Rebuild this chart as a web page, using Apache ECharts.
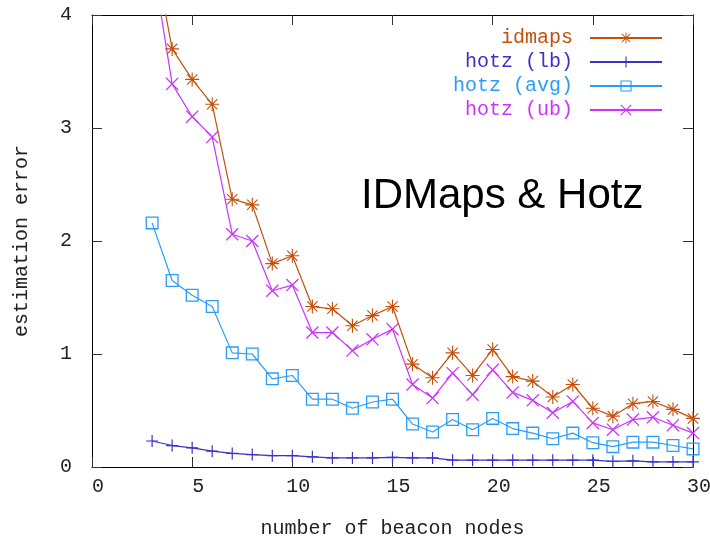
<!DOCTYPE html>
<html>
<head>
<meta charset="utf-8">
<script src="https://cdn.jsdelivr.net/npm/echarts@6/dist/echarts.min.js"></script>
<style>
  html, body { margin: 0; padding: 0; background: #fff; }
  #chart { width: 710px; height: 540px; }
</style>
</head>
<body>
<div id="chart"></div>
<script>
var myChart = echarts.init(document.getElementById('chart'));

// beacon node counts
var nodes = [3, 4, 5, 6, 7, 8, 9, 10, 11, 12, 13, 14, 15, 16, 17, 18, 19, 20,
             21, 22, 23, 24, 25, 26, 27, 28, 29, 30];

var idmaps = [4.65, 3.70, 3.43, 3.21, 2.37, 2.32, 1.80, 1.87, 1.42, 1.40, 1.25, 1.34, 1.42, 0.91,
              0.79, 1.01, 0.81, 1.04, 0.80, 0.76, 0.62, 0.73, 0.52, 0.45, 0.56, 0.58, 0.51, 0.43];
var hotzLb = [0.23, 0.19, 0.17, 0.14, 0.12, 0.11, 0.10, 0.10, 0.09, 0.08, 0.08, 0.08, 0.085, 0.08,
              0.08, 0.06, 0.06, 0.06, 0.06, 0.06, 0.06, 0.06, 0.06, 0.05, 0.055, 0.045, 0.045, 0.045];
var hotzAvg = [2.16, 1.65, 1.52, 1.42, 1.01, 1.00, 0.78, 0.81, 0.60, 0.60, 0.52, 0.575, 0.60, 0.38,
               0.31, 0.42, 0.33, 0.43, 0.34, 0.30, 0.25, 0.30, 0.215, 0.18, 0.22, 0.22, 0.19, 0.16];
var hotzUb = [4.50, 3.39, 3.10, 2.92, 2.06, 2.00, 1.56, 1.61, 1.19, 1.19, 1.03, 1.13, 1.22, 0.73,
              0.61, 0.83, 0.64, 0.86, 0.66, 0.59, 0.48, 0.58, 0.39, 0.33, 0.42, 0.44, 0.37, 0.30];

var names = ['idmaps', 'hotz (lb)', 'hotz (avg)', 'hotz (ub)'];
var colors = ['#c4500c', '#3a32c8', '#2b9cf7', '#cc33ff'];

var monoFont = 'Liberation Mono';

// point markers drawn as filled outlines
var plusPath = 'path://M9,0H11V20H9Z M0,9H20V11H0Z';
var crossPath = 'path://M0,1.4L1.4,0L20,18.6L18.6,20Z M18.6,0L20,1.4L1.4,20L0,18.6Z';
var starPath = 'path://M9.2,0H10.8V20H9.2Z M0,9.2H20V10.8H0Z M2.1,3.2L3.2,2.1L17.9,16.8L16.8,17.9Z M16.8,2.1L17.9,3.2L3.2,17.9L2.1,16.8Z';
var boxPath = 'path://M0,0H20V20H0Z M2,2V18H18V2Z';

function pairs(ys) {
    return nodes.map(function (x, i) { return [x, ys[i]]; });
}

function makeSeries(i, values, symbol, size) {
    return {
        name: names[i],
        type: 'line',
        data: pairs(values),
        symbol: symbol,
        symbolSize: size,
        showAllSymbol: true,
        clip: true,
        lineStyle: { color: colors[i], width: 1.2 },
        itemStyle: { color: colors[i] },
        emphasis: { disabled: true }
    };
}

var axisCommon = {
    type: 'value',
    splitLine: { show: false },
    axisLine: { show: true, onZero: false, lineStyle: { color: '#000', width: 1 } },
    axisTick: { show: true, inside: true, length: 10, lineStyle: { color: '#333' } }
};

myChart.setOption({
    backgroundColor: '#fff',
    animation: false,
    grid: { left: 92, right: 17, top: 15, bottom: 73, outerBoundsMode: 'none', containLabel: false },
    legend: {
        orient: 'vertical',
        align: 'right',
        right: 42,
        top: 23,
        itemWidth: 72,
        itemHeight: 14,
        itemGap: 4,
        selectedMode: false,
        textStyle: { fontFamily: monoFont, fontSize: 20, padding: [0, 12, 0, 0] },
        data: names.map(function (n, i) {
            return { name: n, textStyle: { color: colors[i] } };
        })
    },
    xAxis: [
        Object.assign({}, axisCommon, {
            min: 0, max: 30, interval: 5,
            position: 'bottom',
            name: 'number of beacon nodes',
            nameLocation: 'middle',
            nameGap: 52,
            nameTextStyle: { fontFamily: monoFont, fontSize: 20, color: '#222' },
            axisLabel: { fontFamily: monoFont, fontSize: 20, color: '#222', margin: 10, padding: [0, 0, 0, 12] }
        }),
        Object.assign({}, axisCommon, {
            min: 0, max: 30, interval: 5,
            position: 'top',
            axisLabel: { show: false }
        })
    ],
    yAxis: [
        Object.assign({}, axisCommon, {
            min: 0, max: 4, interval: 1,
            position: 'left',
            name: 'estimation error',
            nameLocation: 'middle',
            nameGap: 60,
            nameTextStyle: { fontFamily: monoFont, fontSize: 20, color: '#222' },
            axisLabel: { fontFamily: monoFont, fontSize: 20, color: '#222', margin: 20 }
        }),
        Object.assign({}, axisCommon, {
            min: 0, max: 4, interval: 1,
            position: 'right',
            axisLabel: { show: false }
        })
    ],
    graphic: [{
        type: 'text',
        left: 361,
        top: 175,
        style: {
            text: 'IDMaps & Hotz',
            font: '42px "Liberation Sans"',
            fill: '#000'
        }
    }],
    series: [
        makeSeries(0, idmaps, starPath, 14),
        makeSeries(1, hotzLb, plusPath, 12),
        makeSeries(2, hotzAvg, boxPath, 13),
        makeSeries(3, hotzUb, crossPath, 13)
    ]
});
</script>
</body>
</html>
